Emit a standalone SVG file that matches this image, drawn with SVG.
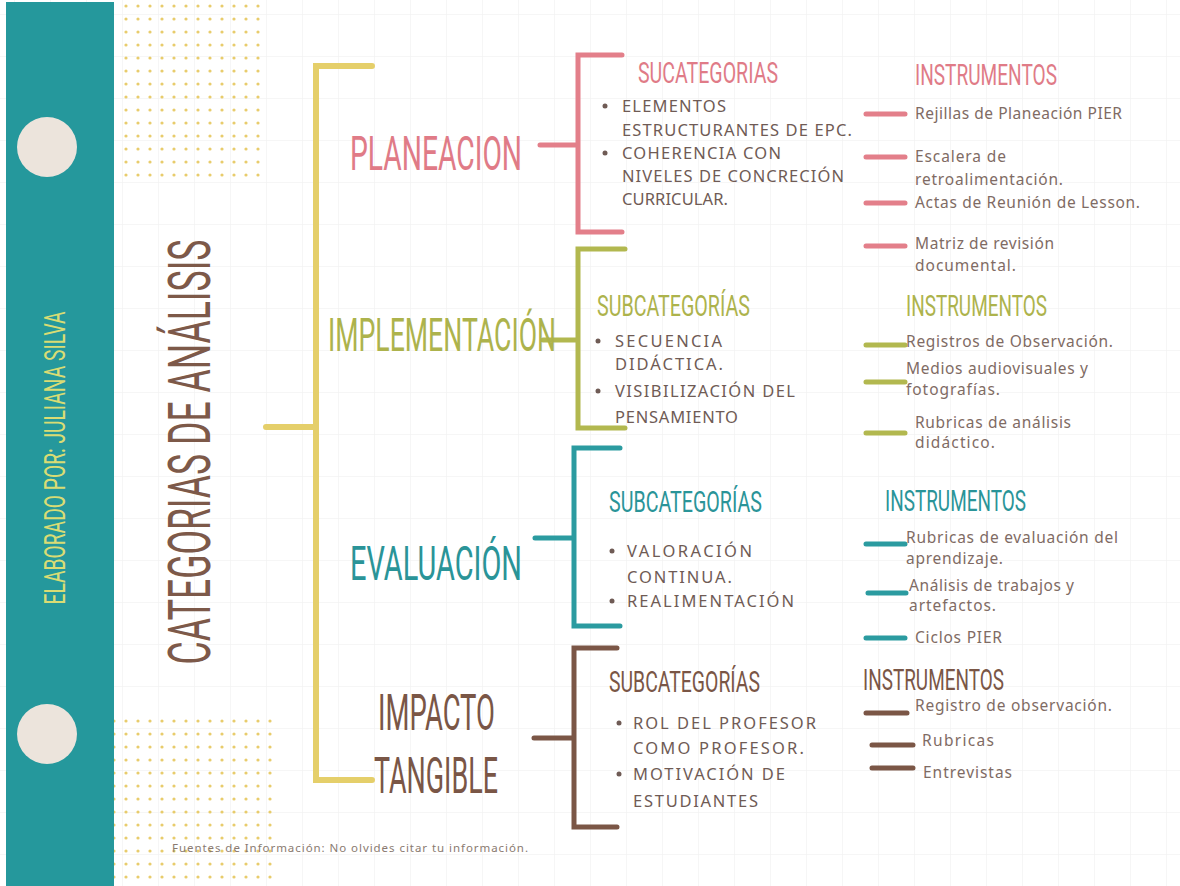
<svg xmlns="http://www.w3.org/2000/svg" width="1180" height="886" viewBox="0 0 1180 886">
<defs>
<pattern id="grid" x="14" y="14" width="36" height="42" patternUnits="userSpaceOnUse">
<path d="M0,0 H36 M0,0 V42" fill="none" stroke="#eeeeee" stroke-width="1"/>
</pattern>
<pattern id="dots" x="0" y="0" width="12" height="13" patternUnits="userSpaceOnUse">
<circle cx="6" cy="6" r="1.6" fill="#e6c75c" opacity="0.9"/>
</pattern>
<style>
.head{font-family:Roboto,"Liberation Sans",sans-serif;font-weight:400}
.body{font-family:"Noto Sans","Open Sans",sans-serif;font-size:16.5px;fill:#6f5b55}
.inst{font-family:"Noto Sans","Open Sans",sans-serif;font-size:15.5px;fill:#7f6b64}
.ln{fill:none;stroke-linecap:round;stroke-linejoin:miter}
.y{stroke:#e5cf6a;stroke-width:6}
.p{stroke:#e37f8a;stroke-width:5}
.g{stroke:#b2b84f;stroke-width:5}
.t{stroke:#2b9ba0;stroke-width:5}
.b{stroke:#7b5646;stroke-width:5}
</style>
</defs>
<rect width="1180" height="886" fill="#ffffff"/>
<rect width="1180" height="886" fill="url(#grid)"/>
<rect x="120" y="4" width="146" height="176" fill="url(#dots)"/>
<rect x="113" y="710" width="166" height="176" fill="url(#dots)"/>

<g id="sidebar">
<rect x="6" y="2" width="108" height="884" fill="#25989c"/>
<circle cx="47" cy="147" r="30" fill="#ece4dc"/>
<circle cx="47" cy="734" r="30" fill="#ece4dc"/>
<text class="head" transform="translate(65,458) rotate(-90)" text-anchor="middle" font-size="30" fill="#d9dc74" textLength="293" lengthAdjust="spacingAndGlyphs">ELABORADO POR: JULIANA SILVA</text>
</g>

<g id="title">
<text class="head" transform="translate(210,452) rotate(-90)" text-anchor="middle" font-size="60" fill="#7d5949" textLength="425" lengthAdjust="spacingAndGlyphs">CATEGORIAS DE ANÁLISIS</text>
</g>

<g id="connectors">
<path class="ln y" d="M372,66 H316 V780 H372 M266,427 H316"/>
<path class="ln p" d="M540,145 H578 M622,55 H578 V232 H622"/>
<path class="ln g" d="M543,340 H578 M625,249 H578 V428 H625"/>
<path class="ln t" d="M535,538 H574 M620,448 H574 V626 H620"/>
<path class="ln b" d="M534,738 H574 M617,648 H574 V827 H617"/>
<path class="ln p" d="M866,114 H905 M866,157 H905 M866,203 H905 M866,246 H905"/>
<path class="ln g" d="M866,345 H905 M866,382 H905 M866,433 H905"/>
<path class="ln t" d="M866,544 H905 M868,593 H906 M866,638 H905"/>
<path class="ln b" d="M866,713 H907 M872,745 H913 M872,768 H913"/>
</g>

<g id="planeacion">
<text class="head" x="350" y="170" font-size="49" fill="#e07b87" textLength="172" lengthAdjust="spacingAndGlyphs">PLANEACION</text>
<text class="head" x="638" y="83" font-size="30" fill="#e07b87" textLength="140" lengthAdjust="spacingAndGlyphs">SUCATEGORIAS</text>
<circle cx="605" cy="106" r="2.5" fill="#6f5b55"/>
<circle cx="605" cy="153" r="2.5" fill="#6f5b55"/>
<text class="body" x="622" y="112" textLength="104">ELEMENTOS</text>
<text class="body" x="622" y="136" textLength="230">ESTRUCTURANTES DE EPC.</text>
<text class="body" x="622" y="159" textLength="159">COHERENCIA CON</text>
<text class="body" x="622" y="182" textLength="222">NIVELES DE CONCRECIÓN</text>
<text class="body" x="622" y="205" textLength="106">CURRICULAR.</text>
<text class="head" x="915" y="85" font-size="30" fill="#e07b87" textLength="142" lengthAdjust="spacingAndGlyphs">INSTRUMENTOS</text>
<text class="inst" x="915" y="119" textLength="207">Rejillas de Planeación PIER</text>
<text class="inst" x="915" y="162" textLength="91">Escalera de</text>
<text class="inst" x="915" y="185" textLength="148">retroalimentación.</text>
<text class="inst" x="915" y="208" textLength="225">Actas de Reunión de Lesson.</text>
<text class="inst" x="915" y="249" textLength="139">Matriz de revisión</text>
<text class="inst" x="915" y="271" textLength="101">documental.</text>
</g>

<g id="implementacion">
<text class="head" x="328" y="351" font-size="46" fill="#adb34c" textLength="228" lengthAdjust="spacingAndGlyphs">IMPLEMENTACIÓN</text>
<text class="head" x="597" y="316" font-size="30" fill="#adb34c" textLength="153" lengthAdjust="spacingAndGlyphs">SUBCATEGORÍAS</text>
<circle cx="598" cy="341" r="2.5" fill="#6f5b55"/>
<circle cx="598" cy="391" r="2.5" fill="#6f5b55"/>
<text class="body" x="615" y="347" textLength="107">SECUENCIA</text>
<text class="body" x="615" y="370" textLength="108">DIDÁCTICA.</text>
<text class="body" x="615" y="397" textLength="180">VISIBILIZACIÓN DEL</text>
<text class="body" x="615" y="423" textLength="123">PENSAMIENTO</text>
<text class="head" x="906" y="316" font-size="30" fill="#adb34c" textLength="141" lengthAdjust="spacingAndGlyphs">INSTRUMENTOS</text>
<text class="inst" x="906" y="347" textLength="207">Registros de Observación.</text>
<text class="inst" x="906" y="374" textLength="182">Medios audiovisuales y</text>
<text class="inst" x="906" y="395" textLength="94">fotografías.</text>
<text class="inst" x="915" y="428" textLength="156">Rubricas de análisis</text>
<text class="inst" x="915" y="448" textLength="80">didáctico.</text>
</g>

<g id="evaluacion">
<text class="head" x="350" y="580" font-size="49" fill="#2a9498" textLength="172" lengthAdjust="spacingAndGlyphs">EVALUACIÓN</text>
<text class="head" x="609" y="512" font-size="30" fill="#2a9498" textLength="153" lengthAdjust="spacingAndGlyphs">SUBCATEGORÍAS</text>
<circle cx="612" cy="551" r="2.5" fill="#6f5b55"/>
<circle cx="612" cy="601" r="2.5" fill="#6f5b55"/>
<text class="body" x="627" y="557" textLength="125">VALORACIÓN</text>
<text class="body" x="627" y="583" textLength="105">CONTINUA.</text>
<text class="body" x="627" y="607" textLength="167">REALIMENTACIÓN</text>
<text class="head" x="885" y="511" font-size="30" fill="#2a9498" textLength="141" lengthAdjust="spacingAndGlyphs">INSTRUMENTOS</text>
<text class="inst" x="906" y="543" textLength="212">Rubricas de evaluación del</text>
<text class="inst" x="906" y="564" textLength="97">aprendizaje.</text>
<text class="inst" x="909" y="591" textLength="165">Análisis de trabajos y</text>
<text class="inst" x="909" y="611" textLength="87">artefactos.</text>
<text class="inst" x="915" y="643" textLength="87">Ciclos PIER</text>
</g>

<g id="impacto">
<text class="head" x="378" y="730" font-size="50" fill="#7a5646" textLength="117" lengthAdjust="spacingAndGlyphs">IMPACTO</text>
<text class="head" x="374" y="793" font-size="50" fill="#7a5646" textLength="124" lengthAdjust="spacingAndGlyphs">TANGIBLE</text>
<text class="head" x="609" y="692" font-size="30" fill="#7a5646" textLength="151" lengthAdjust="spacingAndGlyphs">SUBCATEGORÍAS</text>
<circle cx="619" cy="723" r="2.5" fill="#6f5b55"/>
<circle cx="619" cy="774" r="2.5" fill="#6f5b55"/>
<text class="body" x="633" y="729" textLength="183">ROL DEL PROFESOR</text>
<text class="body" x="633" y="754" textLength="171">COMO PROFESOR.</text>
<text class="body" x="633" y="780" textLength="152">MOTIVACIÓN DE</text>
<text class="body" x="633" y="807" textLength="125">ESTUDIANTES</text>
<text class="head" x="863" y="690" font-size="30" fill="#7a5646" textLength="141" lengthAdjust="spacingAndGlyphs">INSTRUMENTOS</text>
<text class="inst" x="915" y="711" textLength="197">Registro de observación.</text>
<text class="inst" x="922" y="746" textLength="72">Rubricas</text>
<text class="inst" x="923" y="778" textLength="89">Entrevistas</text>
</g>

<g id="footer">
<text x="172" y="852" font-family="'Noto Sans','Open Sans',sans-serif" font-size="11.5" fill="#8a7a70" textLength="356">Fuentes de Información: No olvides citar tu información.</text>
</g>
</svg>
